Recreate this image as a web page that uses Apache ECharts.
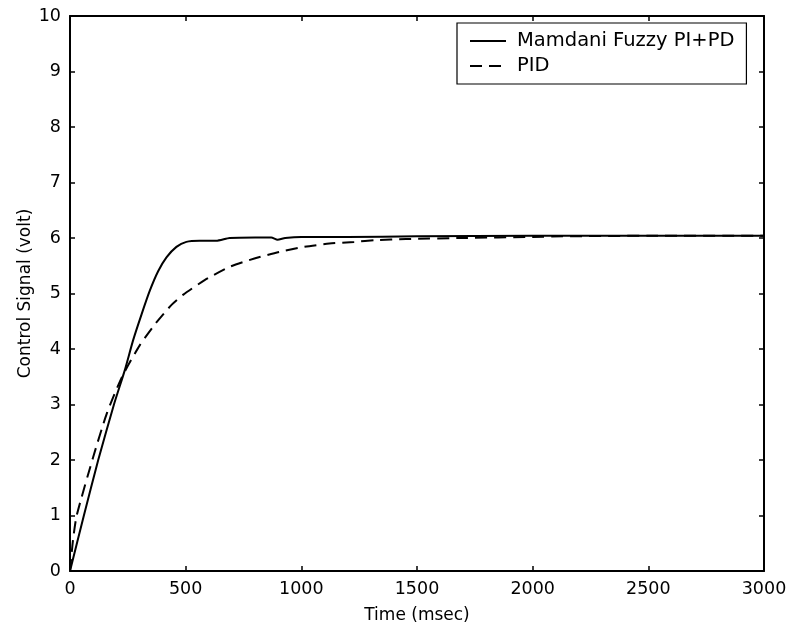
<!DOCTYPE html>
<html>
<head>
<meta charset="utf-8">
<script src="https://cdn.jsdelivr.net/npm/echarts@6/dist/echarts.min.js"></script>
<style>html,body{margin:0;padding:0;background:#fff}#c{width:790px;height:630px}</style>
</head>
<body>
<div id="c"></div>
<script>
var xTicks = [0, 500, 1000, 1500, 2000, 2500, 3000];
var yTicks = [0, 1, 2, 3, 4, 5, 6, 7, 8, 9, 10];
var seriesNames = ['Mamdani Fuzzy PI+PD', 'PID'];
var fuzzyTime = [0, 60, 122, 190, 237, 273, 309, 345, 381, 417, 460, 503, 560, 632, 690, 800, 870, 897, 930, 1000, 1200, 1500, 2000, 2500, 3000];
var fuzzyValue = [0, 1, 2, 3, 3.62, 4.16, 4.62, 5.05, 5.40, 5.65, 5.84, 5.93, 5.95, 5.95, 6.0, 6.01, 6.01, 5.97, 6.0, 6.02, 6.02, 6.03, 6.04, 6.04, 6.04];
var pidTime = [0, 13, 29, 100, 160, 225, 302, 370, 440, 490, 582, 690, 797, 905, 1013, 1121, 1228, 1322, 1452, 1700, 2000, 2130, 2500, 3000];
var pidValue = [0, 0.56, 1.0, 2.05, 2.85, 3.5, 4.07, 4.46, 4.8, 4.98, 5.24, 5.48, 5.63, 5.75, 5.84, 5.9, 5.93, 5.96, 5.98, 6.0, 6.02, 6.03, 6.04, 6.04];

function pairs(t, v) { return t.map(function (x, i) { return [x, v[i]]; }); }

var FONT = 'DejaVu Sans';
var axisLine = { show: true, onZero: false, lineStyle: { color: '#000', width: 2 } };
var tick = { show: true, inside: true, length: 5, lineStyle: { color: '#000', width: 1.5 } };

var chart = echarts.init(document.getElementById('c'));
chart.setOption({
  animation: false,
  backgroundColor: '#fff',
  grid: { left: 70, right: 26, top: 16, bottom: 59, containLabel: false },
  legend: {
    data: seriesNames,
    orient: 'vertical',
    left: 457, top: 23,
    width: 289,
    padding: [8, 12, 8, 12],
    itemGap: 5,
    itemWidth: 36, itemHeight: 14,
    borderColor: '#000', borderWidth: 1.2,
    backgroundColor: '#fff',
    itemStyle: { opacity: 0 },
    textStyle: { fontFamily: FONT, fontSize: 19.5, color: '#000', padding: [0, 0, 0, 6] }
  },
  xAxis: [{
    type: 'value', min: xTicks[0], max: xTicks[xTicks.length - 1], interval: 500,
    name: 'Time (msec)', nameLocation: 'middle', nameGap: 36, nameMoveOverlap: false,
    nameTextStyle: { fontFamily: FONT, fontSize: 17, color: '#000' },
    axisLine: axisLine, axisTick: tick, splitLine: { show: false },
    axisLabel: { fontFamily: FONT, fontSize: 17.5, color: '#000', margin: 9, formatter: function (v) { return String(v); } }
  }, {
    type: 'value', position: 'top', min: xTicks[0], max: xTicks[xTicks.length - 1], interval: 500,
    axisLine: axisLine, axisTick: tick, splitLine: { show: false }, axisLabel: { show: false }
  }],
  yAxis: [{
    type: 'value', min: yTicks[0], max: yTicks[yTicks.length - 1], interval: 1,
    name: 'Control Signal (volt)', nameLocation: 'middle', nameGap: 36, nameMoveOverlap: false,
    nameTextStyle: { fontFamily: FONT, fontSize: 17, color: '#000' },
    axisLine: axisLine, axisTick: tick, splitLine: { show: false },
    axisLabel: { fontFamily: FONT, fontSize: 17.5, color: '#000', margin: 9 }
  }, {
    type: 'value', position: 'right', min: yTicks[0], max: yTicks[yTicks.length - 1], interval: 1,
    axisLine: axisLine, axisTick: tick, splitLine: { show: false }, axisLabel: { show: false }
  }],
  series: [{
    name: seriesNames[0], type: 'line', data: pairs(fuzzyTime, fuzzyValue),
    symbol: 'none', smooth: 0.2, color: '#000',
    lineStyle: { color: '#000', width: 2, type: 'solid' }
  }, {
    name: seriesNames[1], type: 'line', data: pairs(pidTime, pidValue),
    symbol: 'none', smooth: 0.2, color: '#000',
    lineStyle: { color: '#000', width: 2, type: [12, 7] }
  }]
});
</script>
</body>
</html>
